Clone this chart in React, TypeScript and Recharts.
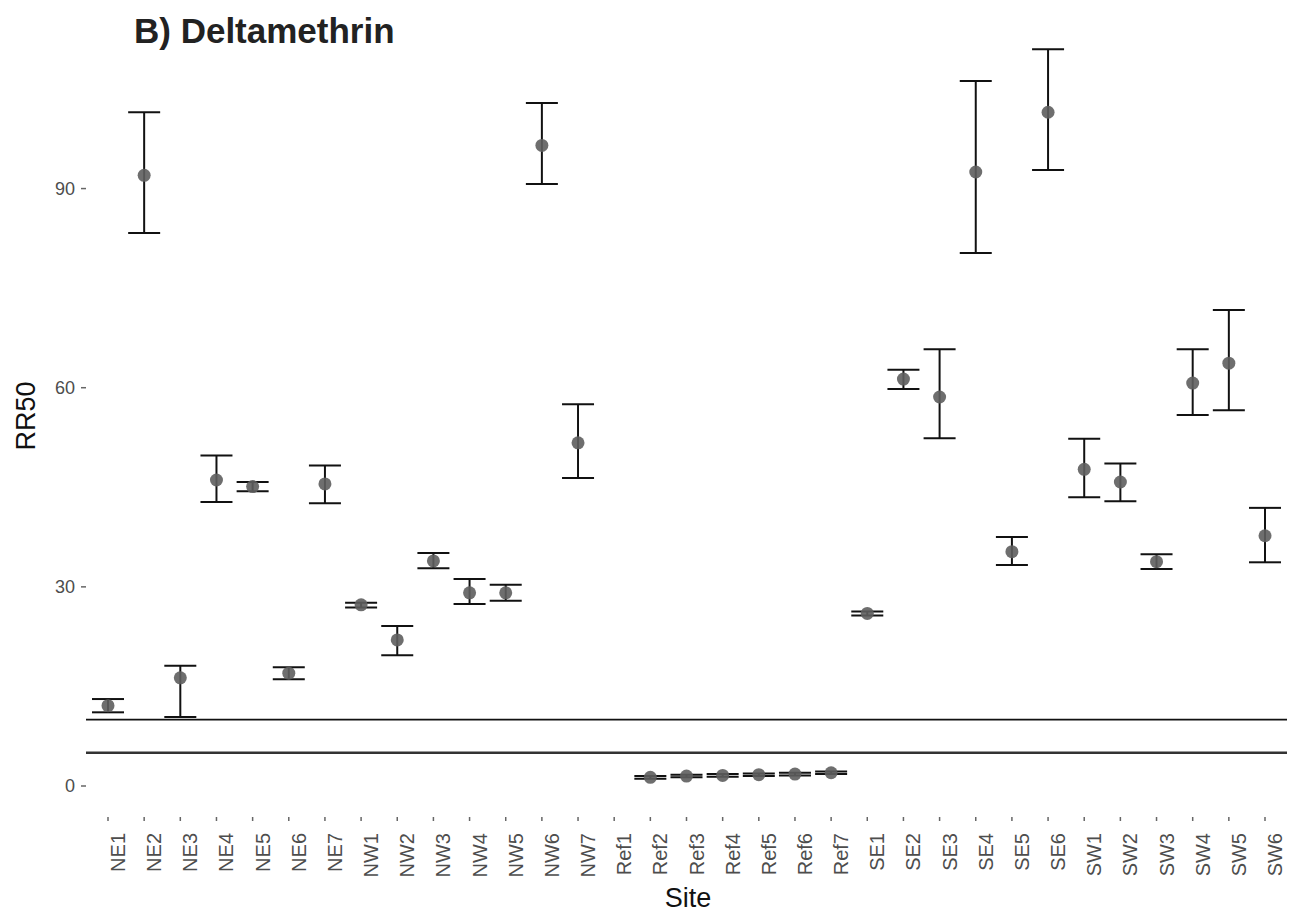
import React from 'react';
import { ComposedChart, Line, XAxis, YAxis, ErrorBar, ReferenceLine } from 'recharts';

const sites = ['NE1', 'NE2', 'NE3', 'NE4', 'NE5', 'NE6', 'NE7', 'NW1', 'NW2', 'NW3', 'NW4', 'NW5', 'NW6', 'NW7',
  'Ref1', 'Ref2', 'Ref3', 'Ref4', 'Ref5', 'Ref6', 'Ref7', 'SE1', 'SE2', 'SE3', 'SE4', 'SE5', 'SE6',
  'SW1', 'SW2', 'SW3', 'SW4', 'SW5', 'SW6'];

const rr50: (number | null)[] = [12.1, 92.0, 16.3, 46.1, 45.1, 17.0, 45.5, 27.3, 22.0, 33.9, 29.1, 29.1, 96.5, 51.7,
  null, 1.3, 1.5, 1.6, 1.7, 1.8, 2.0, 26.0, 61.3, 58.6, 92.5, 35.3, 101.5,
  47.7, 45.8, 33.8, 60.7, 63.7, 37.7];

const lower: (number | null)[] = [11.1, 83.3, 10.4, 42.8, 44.4, 16.1, 42.6, 26.9, 19.7, 32.8, 27.4, 27.9, 90.7, 46.4,
  null, 1.1, 1.3, 1.4, 1.5, 1.6, 1.8, 25.7, 59.8, 52.4, 80.3, 33.3, 92.8,
  43.5, 42.9, 32.7, 55.9, 56.6, 33.7];

const upper: (number | null)[] = [13.1, 101.5, 18.1, 49.8, 45.8, 17.9, 48.3, 27.6, 24.1, 35.1, 31.2, 30.3, 102.9, 57.5,
  null, 1.5, 1.7, 1.8, 1.9, 2.0, 2.2, 26.3, 62.7, 65.8, 106.2, 37.5, 111.0,
  52.3, 48.6, 34.9, 65.8, 71.7, 41.9];

const yTicks = [0, 30, 60, 90];
const thresholds = [10, 5];

const data = sites.map((site, i) => {
  const v = rr50[i];
  const lo = lower[i];
  const hi = upper[i];
  return {
    site,
    rr50: v,
    err: v == null || lo == null || hi == null ? null : [v - lo, hi - v],
  };
});

const FONT = '"Liberation Sans", Arial, Helvetica, sans-serif';

const renderDot = (props: any) => {
  const { cx, cy, index } = props;
  if (cx == null || cy == null || Number.isNaN(cx) || Number.isNaN(cy) || props.payload?.rr50 == null) {
    return <g key={`d-${index}`} />;
  }
  return <circle key={`d-${index}`} cx={cx} cy={cy} r={6.5} fill="#5e5e5e" fillOpacity={0.9} />;
};

const XTick = (props: any) => {
  const { x, y, payload } = props;
  return (
    <text
      x={0}
      y={0}
      transform={`translate(${x + 17},${y + 10}) rotate(-90)`}
      textAnchor="end"
      fontSize={20}
      fontFamily={FONT}
      fill="#4d4d4d"
    >
      {payload.value}
    </text>
  );
};

export default function App() {
  return (
    <div style={{ position: 'absolute', left: 0, top: 0, width: 1294, height: 916, background: '#ffffff', fontFamily: FONT }}>
      <ComposedChart
        width={1294}
        height={916}
        data={data}
        margin={{ top: 12, right: 7, bottom: 0, left: 0 }}
      >
        <XAxis
          dataKey="site"
          type="category"
          interval={0}
          padding={{ left: 22, right: 22 }}
          height={99}
          axisLine={false}
          tickSize={4}
          tickMargin={2}
          tickLine={{ stroke: '#666', strokeWidth: 1.5 }}
          tick={<XTick />}
        />
        <YAxis
          type="number"
          domain={[-4.67, 116.6]}
          allowDataOverflow
          ticks={yTicks}
          width={86}
          axisLine={false}
          tickSize={5}
          tickMargin={6}
          tickLine={{ stroke: '#666', strokeWidth: 1.5 }}
          tick={{ fill: '#4d4d4d', fontSize: 18, fontFamily: FONT }}
        />
        <ReferenceLine y={thresholds[0]} stroke="#111" strokeWidth={1.8} />
        <ReferenceLine y={thresholds[1]} stroke="#333" strokeWidth={2.6} />
        <Line
          dataKey="rr50"
          stroke="none"
          dot={renderDot}
          activeDot={false}
          isAnimationActive={false}
          connectNulls={false}
        >
          <ErrorBar dataKey="err" direction="y" width={16} stroke="#111" strokeWidth={2} isAnimationActive={false} />
        </Line>
      </ComposedChart>
      <svg
        width={1294}
        height={916}
        style={{ position: 'absolute', left: 0, top: 0, pointerEvents: 'none' }}
      >
        <text x={134} y={43} fontSize={35} fontWeight="bold" fontFamily={FONT} fill="#222">
          B) Deltamethrin
        </text>
        <text
          x={0}
          y={0}
          transform="translate(35,416) rotate(-90)"
          textAnchor="middle"
          fontSize={27}
          fontFamily={FONT}
          fill="#111"
        >
          RR50
        </text>
        <text x={688} y={907} textAnchor="middle" fontSize={27} fontFamily={FONT} fill="#111">
          Site
        </text>
      </svg>
    </div>
  );
}
